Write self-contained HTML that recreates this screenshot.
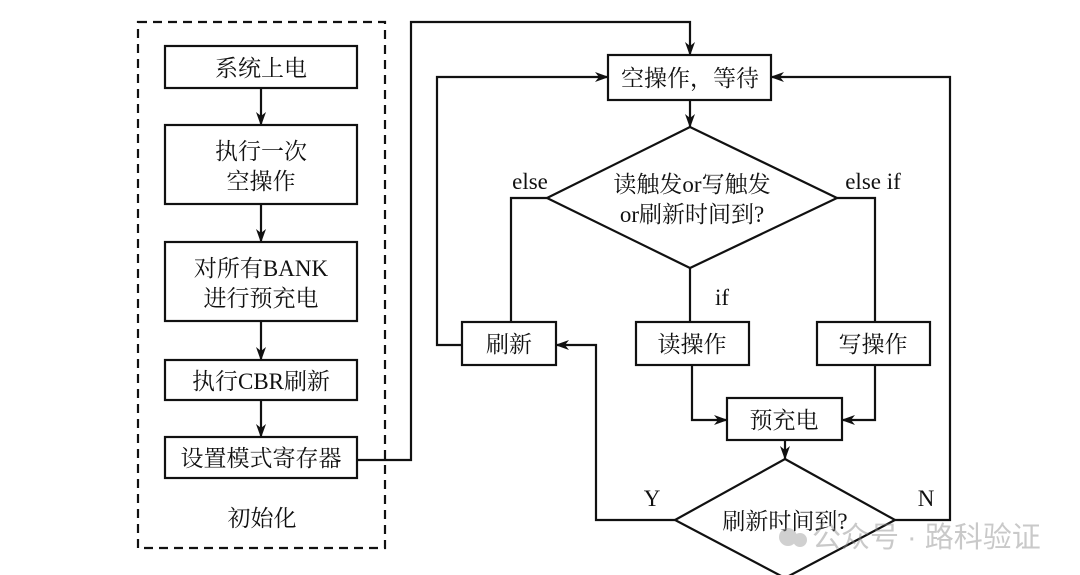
<!DOCTYPE html>
<html><head><meta charset="utf-8"><style>
html,body{margin:0;padding:0;background:#fff;}
svg{display:block;}
text{font-family:"Liberation Serif","Noto Serif CJK SC",serif;font-size:23px;fill:#111;}
</style></head><body>
<svg width="1080" height="575" viewBox="0 0 1080 575" xmlns="http://www.w3.org/2000/svg">
<defs>
<marker id="a" markerWidth="14" markerHeight="10" refX="13" refY="5" orient="auto" markerUnits="userSpaceOnUse">
<path d="M0,0 L14,5 L0,10 L4,5 z" fill="#111"/></marker>
</defs>
<g stroke="#111" stroke-width="2.2" fill="none">
<rect x="138" y="22" width="247" height="526" stroke-dasharray="9,6"/>
<rect x="165" y="46" width="192" height="42"/>
<rect x="165" y="125" width="192" height="79"/>
<rect x="165" y="242" width="192" height="79"/>
<rect x="165" y="360" width="192" height="40"/>
<rect x="165" y="437" width="192" height="41"/>
<line x1="261" y1="88" x2="261" y2="125" marker-end="url(#a)"/>
<line x1="261" y1="204" x2="261" y2="242" marker-end="url(#a)"/>
<line x1="261" y1="321" x2="261" y2="360" marker-end="url(#a)"/>
<line x1="261" y1="400" x2="261" y2="437" marker-end="url(#a)"/>
<polyline points="357,460 411,460 411,22 690,22 690,55" marker-end="url(#a)"/>
<rect x="608" y="55" width="163" height="45"/>
<line x1="690" y1="100" x2="690" y2="127" marker-end="url(#a)"/>
<polygon points="690,127 837,198 690,268 547,198"/>
<polyline points="547,198 511,198 511,322"/>
<rect x="462" y="322" width="94" height="43"/>
<polyline points="462,345 437,345 437,77 608,77" marker-end="url(#a)"/>
<line x1="690" y1="268" x2="690" y2="322"/>
<rect x="636" y="322" width="113" height="43"/>
<polyline points="837,198 875,198 875,322"/>
<rect x="817" y="322" width="113" height="43"/>
<rect x="727" y="398" width="115" height="42"/>
<polyline points="692,365 692,420 727,420" marker-end="url(#a)"/>
<polyline points="875,365 875,420 842,420" marker-end="url(#a)"/>
<line x1="785" y1="440" x2="785" y2="459" marker-end="url(#a)"/>
<polygon points="785,459 895,520 785,578 675,520"/>
<polyline points="675,520 596,520 596,345 556,345" marker-end="url(#a)"/>
<polyline points="895,520 950,520 950,77 771,77" marker-end="url(#a)"/>
</g>
<g text-anchor="middle">
<text x="261" y="76">系统上电</text>
<text x="261" y="159">执行一次</text>
<text x="261" y="189">空操作</text>
<text x="261" y="276">对所有BANK</text>
<text x="261" y="306">进行预充电</text>
<text x="261" y="389">执行CBR刷新</text>
<text x="261" y="466">设置模式寄存器</text>
<text x="262" y="526">初始化</text>
<text x="690" y="86">空操作，等待</text>
<text x="692" y="192">读触发or写触发</text>
<text x="692" y="222">or刷新时间到?</text>
<text x="509" y="352">刷新</text>
<text x="692" y="352">读操作</text>
<text x="873" y="352">写操作</text>
<text x="784" y="428">预充电</text>
<text x="785" y="529">刷新时间到?</text>
<text x="530" y="189">else</text>
<text x="873" y="189">else if</text>
<text x="722" y="305">if</text>
<text x="652" y="506">Y</text>
<text x="926" y="506">N</text>
</g>
<g opacity="0.45">
<circle cx="788" cy="537" r="9" fill="#999"/>
<circle cx="800" cy="540" r="7" fill="#999"/>
<text x="812" y="547" style="font-family:'Liberation Sans','Noto Sans CJK SC',sans-serif;font-size:29px;fill:#888">公众号 · 路科验证</text>
</g>
</svg>
</body></html>
